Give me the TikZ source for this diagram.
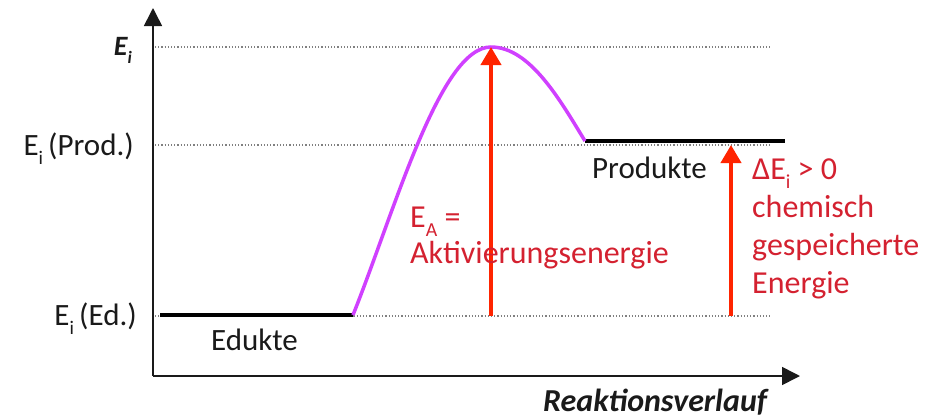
\documentclass[tikz,border=0pt]{standalone}
\usepackage{fontspec}
\setmainfont{Carlito}
\usetikzlibrary{arrows.meta,positioning}
\definecolor{curvepurple}{HTML}{D040FF}
\definecolor{arrowred}{HTML}{FF2400}
\definecolor{textred}{HTML}{D42130}
\definecolor{ink}{HTML}{1A1A1A}
\newcommand\lowsub[1]{\raisebox{-0.3em}{\scalebox{0.62}{#1}}}
\tikzset{
  axis/.style={-{Triangle[length=18pt,width=18pt]},line width=1.6pt,draw=ink},
  level/.style={line width=3.2pt,draw=black},
  guide/.style={dotted,line width=1.2pt,draw=gray},
  redarr/.style={-{Triangle[length=18pt,width=20pt]},line width=4pt,draw=arrowred},
  barrier/.style={line width=3.5pt,draw=curvepurple},
  lbl/.style={inner sep=0pt,font=\fontsize{31}{37}\selectfont,text=ink},
  redlbl/.style={inner sep=0pt,align=left,font=\fontsize{32}{38}\selectfont,text=textred}
}
\begin{document}
\begin{tikzpicture}[x=1pt,y=-1pt]
    \useasboundingbox (0,0) rectangle (937,418);
    \fill[white] (0,0) rectangle (937,418);

    % axes
    \coordinate (origin) at (153,376);
    \coordinate (ytip) at (153,8);
    \coordinate (xtip) at (800,376);
    \draw[axis] (origin) -- (ytip);
    \draw[axis] (origin) -- (xtip);

    % guide lines
    \coordinate (gtop) at (155,47);
    \coordinate (gtopend) at (770,47);
    \coordinate (gprod) at (155,145);
    \coordinate (gprodend) at (770,145);
    \coordinate (ged) at (155,316);
    \coordinate (gedend) at (770,316);
    \draw[guide] (gtop) -- (gtopend);
    \draw[guide] (gprod) -- (gprodend);
    \draw[guide] (ged) -- (gedend);

    % energy levels
    \coordinate (edA) at (160,315);
    \coordinate (edB) at (353,315);
    \coordinate (peak) at (491,47);
    \coordinate (prA) at (585,141);
    \coordinate (prB) at (785,141);
    \draw[level] (edA) -- (edB);
    \draw[level] (prA) -- (prB);
    \draw[barrier] (edB) .. controls (395,210) and (440,47) .. (peak)
      .. controls (530,47) and (560,100) .. (prA);

    % arrows
    \coordinate (eaBase) at (491,316);
    \coordinate (deBase) at (731,316);
    \coordinate (deTip) at (731,145);
    \draw[redarr] (eaBase) -- (peak);
    \draw[redarr] (deBase) -- (deTip);

    % labels
    \node[lbl,anchor=base east,font=\fontsize{28}{32}\selectfont\bfseries\itshape]
      (eiTop) at (132,55) {E\lowsub{i}};
    \node[lbl,anchor=base east] (eiProd) at (134,155) {E\lowsub{i}\,(Prod.)};
    \node[lbl,anchor=base east] (eiEd) at (137,325) {E\lowsub{i}\,(Ed.)};
    \node[lbl,anchor=base west] (edukte) at (211,350) {Edukte};
    \node[lbl,anchor=base west] (produkte) at (592,178) {Produkte};
    \node[redlbl,anchor=base west,font=\fontsize{32}{36}\selectfont] (ealbl) at (410,263)
      {E\lowsub{A} =\\Aktivierungsenergie};
    \node[redlbl,anchor=base west] (delbl) at (752,293)
      {ΔE\lowsub{i} > 0\\chemisch\\gespeicherte\\Energie};
    \node[lbl,anchor=base west,font=\fontsize{32}{38}\selectfont\bfseries\itshape]
      (xlbl) at (543,411) {Reaktionsverlauf};
\end{tikzpicture}
\end{document}
